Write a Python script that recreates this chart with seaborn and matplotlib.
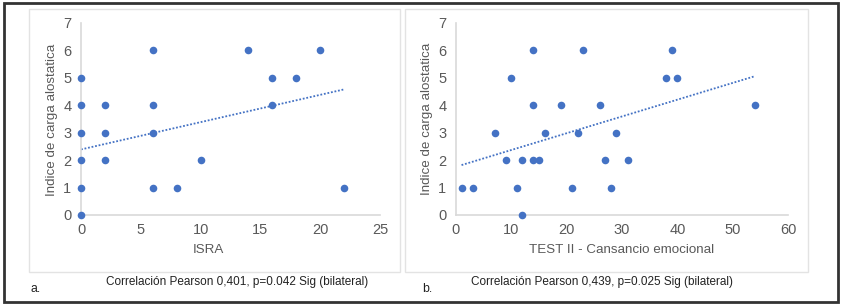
import matplotlib
matplotlib.use("Agg")
import matplotlib.pyplot as plt
import seaborn as sns
import pandas as pd
from matplotlib.patches import Rectangle

# values
isra_x = [0, 0, 0, 0, 0, 0, 2, 2, 2, 6, 6, 6, 6, 8, 10, 14, 16, 16, 18, 20, 22]
isra_y = [0, 1, 2, 3, 4, 5, 4, 3, 2, 6, 4, 3, 1, 1, 2, 6, 5, 4, 5, 6, 1]
test_x = [1, 3, 7, 9, 10, 11, 12, 12, 14, 14, 14, 15, 16, 19, 21, 22, 23, 26, 27, 28, 29, 31, 38, 39, 40, 54]
test_y = [1, 1, 3, 2, 5, 1, 2, 0, 6, 4, 2, 2, 3, 4, 1, 3, 6, 4, 2, 1, 3, 2, 5, 6, 5, 4]

# trend lines (Excel linear trendline, endpoints)
trend_a_x = [0, 22]
trend_a_y = [2.39, 4.58]
trend_b_x = [1, 54]
trend_b_y = [1.82, 5.06]

x_ticks_a = [0, 5, 10, 15, 20, 25]
x_ticks_b = [0, 10, 20, 30, 40, 50, 60]
y_ticks = [0, 1, 2, 3, 4, 5, 6, 7]

caption_a = "Correlación Pearson 0,401, p=0.042 Sig (bilateral)"
caption_b = "Correlación Pearson 0,439, p=0.025 Sig (bilateral)"
ylabel = "Indice de carga alostatica"

sns.set_style("white")
plt.rcParams['font.family'] = ['Liberation Sans', 'DejaVu Sans']

W, H = 842, 306
fig = plt.figure(figsize=(W / 100, H / 100), dpi=100)

blue = "#4472C4"
gray_txt = "#595959"
spine_col = "#d9d9d9"


def px(x, y):
    return x / W, 1 - y / H


def style_axis(ax, xmax, xticks):
    ax.set_xlim(0, xmax)
    ax.set_ylim(0, 7)
    ax.set_xticks(xticks)
    ax.set_yticks(y_ticks)
    ax.set_xlabel("")
    ax.set_ylabel("")
    for s in ["top", "right"]:
        ax.spines[s].set_visible(False)
    for s in ["left", "bottom"]:
        ax.spines[s].set_color(spine_col)
        ax.spines[s].set_linewidth(1.2)
    ax.tick_params(length=0, labelsize=10.5, labelcolor=gray_txt)
    ax.tick_params(axis="y", pad=7)
    ax.tick_params(axis="x", pad=6)
    ax.patch.set_alpha(0)


# panel a
ax1 = fig.add_axes([81 / W, 1 - 215 / H, (380 - 81) / W, (215 - 23) / H])
df_a = pd.DataFrame({"x": isra_x, "y": isra_y})
sns.scatterplot(data=df_a, x="x", y="y", ax=ax1, color=blue, s=30, edgecolor=blue,
                linewidth=0, clip_on=False, zorder=3)
sns.lineplot(x=trend_a_x, y=trend_a_y, ax=ax1, color=blue, linestyle=(0, (1, 1)), linewidth=1.3)
style_axis(ax1, 25, x_ticks_a)

# panel b
ax2 = fig.add_axes([456 / W, 1 - 215 / H, (788 - 456) / W, (215 - 23) / H])
df_b = pd.DataFrame({"x": test_x, "y": test_y})
sns.scatterplot(data=df_b, x="x", y="y", ax=ax2, color=blue, s=30, edgecolor=blue,
                linewidth=0, clip_on=False, zorder=3)
sns.lineplot(x=trend_b_x, y=trend_b_y, ax=ax2, color=blue, linestyle=(0, (1, 1)), linewidth=1.3)
style_axis(ax2, 60, x_ticks_b)

# axis titles
fig.text(*px(208, 250), "ISRA", ha="center", va="center", fontsize=9.6, color=gray_txt)
fig.text(*px(622, 250), "TEST II - Cansancio emocional", ha="center", va="center",
         fontsize=9.6, color=gray_txt)
fig.text(*px(52, 120), ylabel, ha="center", va="center", rotation=90, fontsize=9.6, color=gray_txt)
fig.text(*px(427, 119), ylabel, ha="center", va="center", rotation=90, fontsize=9.6, color=gray_txt)

# captions
fig.text(*px(237, 282), caption_a, ha="center", va="center", fontsize=8.5, color="#222222")
fig.text(*px(602, 282), caption_b, ha="center", va="center", fontsize=8.5, color="#222222")
fig.text(*px(31, 289), "a.", ha="left", va="center", fontsize=8.8, color="#222222")
fig.text(*px(422, 289), "b.", ha="left", va="center", fontsize=8.8, color="#222222")

# chart area frames and outer border
for x0, y0, x1, y1 in [(29, 9, 400, 272), (405, 9, 808, 272)]:
    fig.patches.append(Rectangle(px(x0, y1), (x1 - x0) / W, (y1 - y0) / H,
                                 transform=fig.transFigure, fill=False,
                                 edgecolor="#e3e3e3", linewidth=1.0))
fig.patches.append(Rectangle(px(4, 302), (838 - 4) / W, (302 - 3) / H,
                             transform=fig.transFigure, fill=False,
                             edgecolor="#333333", linewidth=2.0))

fig.savefig("out.png", dpi=100)
